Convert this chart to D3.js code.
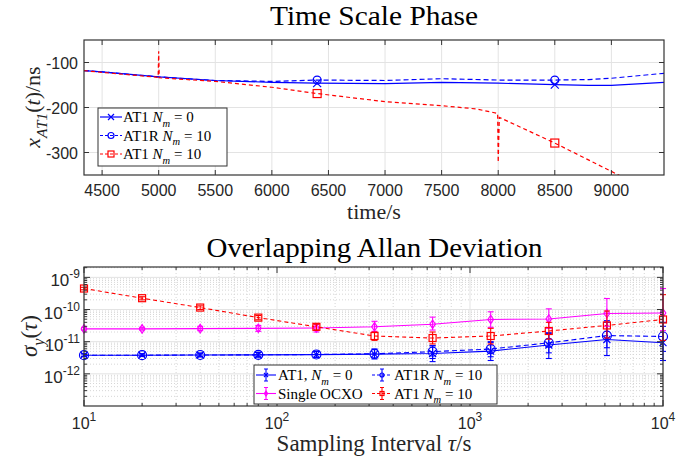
<!DOCTYPE html>
<html>
<head>
<meta charset="utf-8">
<script src="https://cdn.jsdelivr.net/npm/d3@7"></script>
<style>
body{margin:0;background:#fff;}
svg{display:block;}
</style>
</head>
<body>
<div id="chart"></div>
<script>
//////////////////////data//////////////////////
// Time Scale Phase (ns)
var phaseTime = [4340, 4500, 5000, 5500, 6000, 6400, 7000, 7500, 8000, 8500, 8800, 9000, 9465];
var phaseAT1  = [-118, -121, -132, -140, -144, -146, -147, -144, -146, -149, -151, -151, -144];
var phaseAT1R = [-118, -121, -132, -140, -142, -139, -140, -136, -139, -139, -138, -135, -124];
var redTime   = [4340, 4500, 4995, 5000, 5005, 5500, 6000, 6400, 7000, 7500, 7800, 7995, 8000, 8010, 8500, 9000, 9465];
var phaseAT1N10 = [-118, -122, -133, -75, -134, -142, -155, -169, -187, -196, -203, -213, -322, -222, -279, -342, -400];
var markTime = [6400, 8500];
var phaseXTicks = [4500, 5000, 5500, 6000, 6500, 7000, 7500, 8000, 8500, 9000];
var phaseYTicks = [-100, -200, -300];

// Overlapping Allan Deviation
var tau = [10, 20, 40, 80, 160, 320, 640, 1280, 2560, 5120, 10000];
var adevAT1    = [3.8e-12, 3.8e-12, 3.85e-12, 3.9e-12, 3.95e-12, 4.1e-12, 4.3e-12, 5.1e-12, 7.9e-12, 1.17e-11, 9.3e-12];
var adevAT1Lo  = [3.5e-12, 3.5e-12, 3.4e-12, 3.3e-12, 3.2e-12, 2.9e-12, 2.4e-12, 2.6e-12, 3.0e-12, 3.7e-12, 2.6e-12];
var adevAT1Hi  = [4.2e-12, 4.2e-12, 4.4e-12, 4.7e-12, 5.0e-12, 5.9e-12, 7.5e-12, 9.5e-12, 1.8e-11, 4.5e-11, 3.0e-11];
var adevAT1R   = [3.8e-12, 3.8e-12, 3.85e-12, 3.9e-12, 4.0e-12, 4.2e-12, 4.9e-12, 5.9e-12, 9.2e-12, 1.55e-11, 1.45e-11];
var adevAT1RLo = [3.5e-12, 3.5e-12, 3.4e-12, 3.4e-12, 3.3e-12, 3.1e-12, 3.0e-12, 3.4e-12, 4.5e-12, 6.5e-12, 5.0e-12];
var adevAT1RHi = [4.2e-12, 4.2e-12, 4.4e-12, 4.6e-12, 5.0e-12, 5.8e-12, 7.5e-12, 1.0e-11, 1.9e-11, 4.0e-11, 4.0e-11];
var adevOCXO   = [2.5e-11, 2.5e-11, 2.55e-11, 2.6e-11, 2.65e-11, 2.9e-11, 3.5e-11, 4.9e-11, 5.1e-11, 7.5e-11, 7.8e-11];
var adevOCXOLo = [2.3e-11, 2.3e-11, 2.2e-11, 2.1e-11, 2.0e-11, 2.1e-11, 2.3e-11, 2.8e-11, 2.6e-11, 3.0e-11, 2.2e-11];
var adevOCXOHi = [2.8e-11, 2.8e-11, 3.0e-11, 3.2e-11, 3.5e-11, 4.3e-11, 5.8e-11, 8.5e-11, 1.05e-10, 2.2e-10, 4.5e-10];
var adevN10    = [4.5e-10, 2.25e-10, 1.15e-10, 5.6e-11, 2.9e-11, 1.5e-11, 1.3e-11, 1.5e-11, 2.15e-11, 3.2e-11, 4.9e-11];
var adevN10Lo  = [4.1e-10, 2.0e-10, 1.0e-10, 4.8e-11, 2.3e-11, 1.1e-11, 8.5e-12, 8.5e-12, 1.2e-11, 1.3e-11, 1.1e-11];
var adevN10Hi  = [4.9e-10, 2.5e-10, 1.3e-10, 6.5e-11, 3.5e-11, 2.0e-11, 2.0e-11, 2.6e-11, 4.0e-11, 9.0e-11, 2.9e-10];
var adevXExp = [1, 2, 3, 4];
var adevYExp = [-9, -10, -11, -12];

//////////////////////style//////////////////////
var serif = '"Liberation Serif","DejaVu Serif",serif';
var sans = '"Liberation Sans",Arial,sans-serif';
var axisColor = "#333";
var textColor = "#262626";
var gridColor = "#e3e3e3";
var blue = "#0000ff", red = "#ff0000", mag = "#ff00ff";

var svg = d3.select("#chart").append("svg").attr("width", 695).attr("height", 460);

//math text helper: parts = [text, italic?, sub?]
function mathText(sel, parts, size){
    var subSize = size*0.7;
    var shift = 0;
    parts.forEach(function(p){
        var ts = sel.append("tspan").text(p[0]);
        if(p[1]) ts.attr("font-style", "italic");
        var want = p[2] ? size*0.3 : 0;
        if(want != shift){ ts.attr("dy", want-shift); shift = want; }
        if(p[2]) ts.attr("font-size", subSize);
    });
    return sel;
}

//////////////////////top plot//////////////////////
function plot_phase(){
    var L=84, R=664, T=40, B=175;
    var x = d3.scaleLinear().domain([4340, 9465]).range([L, R]);
    var y = d3.scaleLinear().domain([-350, -50]).range([B, T]);
    var g = svg.append("g");

    g.append("clipPath").attr("id", "clipTop").append("rect")
        .attr("x", L).attr("y", T).attr("width", R-L).attr("height", B-T);

    //grid
    g.selectAll(".gx").data(phaseXTicks).enter().append("line")
        .attr("x1", function(d){return x(d);}).attr("x2", function(d){return x(d);})
        .attr("y1", T).attr("y2", B).attr("stroke", gridColor);
    g.selectAll(".gy").data(phaseYTicks).enter().append("line")
        .attr("y1", function(d){return y(d);}).attr("y2", function(d){return y(d);})
        .attr("x1", L).attr("x2", R).attr("stroke", gridColor);

    var line = function(tt){
        return d3.line().x(function(d, i){return x(tt[i]);}).y(function(d){return y(d);});
    };
    var lines = g.append("g").attr("clip-path", "url(#clipTop)");
    lines.append("path").attr("d", line(phaseTime)(phaseAT1))
        .attr("fill", "none").attr("stroke", blue).attr("stroke-width", 1.2);
    lines.append("path").attr("d", line(phaseTime)(phaseAT1R))
        .attr("fill", "none").attr("stroke", blue).attr("stroke-width", 1.2).attr("stroke-dasharray", "5,3");
    lines.append("path").attr("d", line(redTime)(phaseAT1N10))
        .attr("fill", "none").attr("stroke", red).attr("stroke-width", 1.2).attr("stroke-dasharray", "4,3");

    //markers
    markTime.forEach(function(t){
        var i = phaseTime.indexOf(t);
        drawMarker(g, "x", x(t), y(phaseAT1[i]), blue, 4);
        drawMarker(g, "o", x(t), y(phaseAT1R[i]), blue, 4);
        var j = redTime.indexOf(t);
        drawMarker(g, "s", x(t), y(phaseAT1N10[j]), red, 4);
    });

    //box + ticks
    g.append("rect").attr("x", L).attr("y", T).attr("width", R-L).attr("height", B-T)
        .attr("fill", "none").attr("stroke", axisColor).attr("stroke-width", 1.2);
    phaseXTicks.forEach(function(d){
        g.append("line").attr("x1", x(d)).attr("x2", x(d)).attr("y1", B).attr("y2", B-5).attr("stroke", axisColor);
        g.append("line").attr("x1", x(d)).attr("x2", x(d)).attr("y1", T).attr("y2", T+5).attr("stroke", axisColor);
        g.append("text").attr("x", x(d)).attr("y", 196).attr("text-anchor", "middle")
            .attr("font-family", sans).attr("font-size", 16).attr("fill", textColor).text(d);
    });
    phaseYTicks.forEach(function(d){
        g.append("line").attr("x1", L).attr("x2", L+5).attr("y1", y(d)).attr("y2", y(d)).attr("stroke", axisColor);
        g.append("line").attr("x1", R).attr("x2", R-5).attr("y1", y(d)).attr("y2", y(d)).attr("stroke", axisColor);
        g.append("text").attr("x", 78).attr("y", y(d)+6).attr("text-anchor", "end")
            .attr("font-family", sans).attr("font-size", 16).attr("fill", textColor).text(d);
    });

    //labels
    g.append("text").attr("x", 374).attr("y", 25).attr("text-anchor", "middle")
        .attr("font-family", serif).attr("font-size", 28).attr("fill", "#000")
        .attr("textLength", 208).attr("lengthAdjust", "spacingAndGlyphs").text("Time Scale Phase");
    var xl = g.append("text").attr("x", 374).attr("y", 219).attr("text-anchor", "middle")
        .attr("font-family", serif).attr("font-size", 22).attr("fill", textColor);
    mathText(xl, [["time/s"]], 22);
    var yl = g.append("text").attr("transform", "translate(40,107) rotate(-90)").attr("text-anchor", "middle")
        .attr("font-family", serif).attr("font-size", 22).attr("fill", textColor);
    mathText(yl, [["x", 1], ["AT1", 1, 1], ["(", 0], ["t", 1], [")/ns", 0]], 22);

    //legend
    var lg = g.append("g");
    lg.append("rect").attr("x", 98).attr("y", 108).attr("width", 129).attr("height", 58)
        .attr("fill", "#fff").attr("stroke", axisColor).attr("stroke-width", 1);
    var items = [
        {c: blue, dash: null, m: "x", t: [["AT1 "], ["N", 1], ["m", 1, 1], [" = 0"]]},
        {c: blue, dash: "3,2", m: "o", t: [["AT1R "], ["N", 1], ["m", 1, 1], [" = 10"]]},
        {c: red, dash: "3,2", m: "s", t: [["AT1 "], ["N", 1], ["m", 1, 1], [" = 10"]]}
    ];
    items.forEach(function(it, k){
        var cy = 117 + k*18.5;
        lg.append("line").attr("x1", 100).attr("x2", 122).attr("y1", cy).attr("y2", cy)
            .attr("stroke", it.c).attr("stroke-width", 1.2).attr("stroke-dasharray", it.dash);
        drawMarker(lg, it.m, 111, cy, it.c, 3);
        var tx = lg.append("text").attr("x", 123).attr("y", cy+5)
            .attr("font-family", serif).attr("font-size", 15).attr("fill", "#000");
        mathText(tx, it.t, 15);
    });
}

function drawMarker(g, type, cx, cy, color, r){
    if(type == "x"){
        g.append("path").attr("d", "M"+(cx-r)+","+(cy-r)+"L"+(cx+r)+","+(cy+r)+"M"+(cx-r)+","+(cy+r)+"L"+(cx+r)+","+(cy-r))
            .attr("stroke", color).attr("stroke-width", 1.2);
    } else if(type == "o"){
        g.append("circle").attr("cx", cx).attr("cy", cy).attr("r", r)
            .attr("fill", "none").attr("stroke", color).attr("stroke-width", 1.2);
    } else if(type == "s"){
        g.append("rect").attr("x", cx-r).attr("y", cy-r).attr("width", 2*r).attr("height", 2*r)
            .attr("fill", "none").attr("stroke", color).attr("stroke-width", 1.2);
    } else if(type == "d"){
        g.append("path").attr("d", "M"+cx+","+(cy-r*1.2)+"L"+(cx+r*0.8)+","+cy+"L"+cx+","+(cy+r*1.2)+"L"+(cx-r*0.8)+","+cy+"Z")
            .attr("fill", "none").attr("stroke", color).attr("stroke-width", 1.2);
    }
}

//////////////////////bottom plot//////////////////////
function plot_adev(){
    var L=84, R=663, T=267, B=406;
    var x = d3.scaleLog().domain([10, 10000]).range([L, R]);
    var y = d3.scaleLog().domain([1e-13, 2.1e-9]).range([B, T]);
    var g = svg.append("g");

    g.append("clipPath").attr("id", "clipBot").append("rect")
        .attr("x", L).attr("y", T).attr("width", R-L).attr("height", B-T);

    //minor / major grid
    var xMinor = [], yMinor = [];
    for(var e=1; e<4; e++){ for(var k=2; k<10; k++){ xMinor.push(k*Math.pow(10, e)); } }
    for(var e2=-13; e2<-8; e2++){ for(var k2=2; k2<10; k2++){ var v = k2*Math.pow(10, e2); if(v < 2.1e-9) yMinor.push(v); } }
    var xMajor = adevXExp.map(function(p){return Math.pow(10, p);});
    var yMajor = adevYExp.map(function(p){return Math.pow(10, p);});

    xMinor.forEach(function(d){
        g.append("line").attr("x1", x(d)).attr("x2", x(d)).attr("y1", T).attr("y2", B)
            .attr("stroke", "#d6d6d6").attr("stroke-dasharray", "1,2");
    });
    yMinor.forEach(function(d){
        g.append("line").attr("y1", y(d)).attr("y2", y(d)).attr("x1", L).attr("x2", R)
            .attr("stroke", "#d6d6d6").attr("stroke-dasharray", "1,2");
    });
    xMajor.forEach(function(d){
        g.append("line").attr("x1", x(d)).attr("x2", x(d)).attr("y1", T).attr("y2", B).attr("stroke", gridColor);
    });
    yMajor.forEach(function(d){
        g.append("line").attr("y1", y(d)).attr("y2", y(d)).attr("x1", L).attr("x2", R).attr("stroke", gridColor);
    });

    var series = [
        {v: adevAT1, lo: adevAT1Lo, hi: adevAT1Hi, c: blue, dash: null, m: "x"},
        {v: adevAT1R, lo: adevAT1RLo, hi: adevAT1RHi, c: blue, dash: "5,3", m: "o"},
        {v: adevOCXO, lo: adevOCXOLo, hi: adevOCXOHi, c: mag, dash: null, m: "d"},
        {v: adevN10, lo: adevN10Lo, hi: adevN10Hi, c: red, dash: "4,3", m: "s"}
    ];
    var pg = g.append("g").attr("clip-path", "url(#clipBot)");
    var ag = g.append("g");
    var line = d3.line().x(function(d, i){return x(tau[i]);}).y(function(d){return y(d);});
    series.forEach(function(s){
        pg.append("path").attr("d", line(s.v)).attr("fill", "none")
            .attr("stroke", s.c).attr("stroke-width", 1.1).attr("stroke-dasharray", s.dash);
        tau.forEach(function(t, i){
            var px = x(t);
            ag.append("line").attr("x1", px).attr("x2", px).attr("y1", y(s.lo[i])).attr("y2", y(s.hi[i]))
                .attr("stroke", s.c).attr("stroke-width", 1.1);
            [s.lo[i], s.hi[i]].forEach(function(b){
                ag.append("line").attr("x1", px-3).attr("x2", px+3).attr("y1", y(b)).attr("y2", y(b))
                    .attr("stroke", s.c).attr("stroke-width", 1.1);
            });
            drawMarker(ag, s.m, px, y(s.v[i]), s.c, s.m == "o" ? 4.5 : 3.5);
        });
    });

    //box + ticks
    g.append("rect").attr("x", L).attr("y", T).attr("width", R-L).attr("height", B-T)
        .attr("fill", "none").attr("stroke", axisColor).attr("stroke-width", 1.2);
    xMinor.forEach(function(d){
        g.append("line").attr("x1", x(d)).attr("x2", x(d)).attr("y1", B).attr("y2", B-3).attr("stroke", axisColor);
        g.append("line").attr("x1", x(d)).attr("x2", x(d)).attr("y1", T).attr("y2", T+3).attr("stroke", axisColor);
    });
    yMinor.forEach(function(d){
        g.append("line").attr("y1", y(d)).attr("y2", y(d)).attr("x1", L).attr("x2", L+3).attr("stroke", axisColor);
        g.append("line").attr("y1", y(d)).attr("y2", y(d)).attr("x1", R).attr("x2", R-3).attr("stroke", axisColor);
    });
    adevXExp.forEach(function(p){
        var px = x(Math.pow(10, p));
        g.append("line").attr("x1", px).attr("x2", px).attr("y1", B).attr("y2", B-6).attr("stroke", axisColor);
        g.append("line").attr("x1", px).attr("x2", px).attr("y1", T).attr("y2", T+6).attr("stroke", axisColor);
        var t = g.append("text").attr("x", px).attr("y", 429).attr("text-anchor", "middle")
            .attr("font-family", sans).attr("font-size", 16).attr("fill", textColor);
        t.append("tspan").text("10");
        t.append("tspan").attr("dy", -8).attr("font-size", 12).text(p);
    });
    adevYExp.forEach(function(p){
        var py = y(Math.pow(10, p));
        g.append("line").attr("y1", py).attr("y2", py).attr("x1", L).attr("x2", L+6).attr("stroke", axisColor);
        g.append("line").attr("y1", py).attr("y2", py).attr("x1", R).attr("x2", R-6).attr("stroke", axisColor);
        var t = g.append("text").attr("x", 80).attr("y", py+9).attr("text-anchor", "end")
            .attr("font-family", sans).attr("font-size", 17).attr("fill", textColor);
        t.append("tspan").text("10");
        t.append("tspan").attr("dy", -8).attr("font-size", 12).text(p);
    });

    //labels
    g.append("text").attr("x", 374.5).attr("y", 257).attr("text-anchor", "middle")
        .attr("font-family", serif).attr("font-size", 28).attr("fill", "#000")
        .attr("textLength", 336).attr("lengthAdjust", "spacingAndGlyphs").text("Overlapping Allan Deviation");
    var xl = g.append("text").attr("x", 374).attr("y", 451).attr("text-anchor", "middle")
        .attr("font-family", serif).attr("font-size", 23).attr("fill", textColor);
    mathText(xl, [["Sampling Interval "], ["τ", 1], ["/s"]], 23);
    var yl = g.append("text").attr("transform", "translate(37,336) rotate(-90)").attr("text-anchor", "middle")
        .attr("font-family", serif).attr("font-size", 23).attr("fill", textColor);
    mathText(yl, [["σ", 1], ["y", 1, 1], ["("], ["τ", 1], [")"]], 23);

    //legend
    var lg = g.append("g");
    lg.append("rect").attr("x", 254).attr("y", 365).attr("width", 243).attr("height", 39)
        .attr("fill", "#fff").attr("stroke", axisColor).attr("stroke-width", 1);
    var items = [
        {c: blue, dash: null, m: "x", x0: 256, t: [["AT1, "], ["N", 1], ["m", 1, 1], [" = 0"]]},
        {c: blue, dash: "3,2", m: "o", x0: 372, t: [["AT1R "], ["N", 1], ["m", 1, 1], [" = 10"]]},
        {c: mag, dash: null, m: "d", x0: 256, t: [["Single OCXO"]]},
        {c: red, dash: "3,2", m: "s", x0: 372, t: [["AT1 "], ["N", 1], ["m", 1, 1], [" = 10"]]}
    ];
    items.forEach(function(it, k){
        var cy = 375 + Math.floor(k/2)*18.5;
        var x0 = it.x0, x1 = it.x0 + 20, xm = it.x0 + 10;
        lg.append("line").attr("x1", x0).attr("x2", x1).attr("y1", cy).attr("y2", cy)
            .attr("stroke", it.c).attr("stroke-width", 1.1).attr("stroke-dasharray", it.dash);
        lg.append("line").attr("x1", xm).attr("x2", xm).attr("y1", cy-6).attr("y2", cy+6)
            .attr("stroke", it.c).attr("stroke-width", 1.1);
        lg.append("line").attr("x1", xm-2).attr("x2", xm+2).attr("y1", cy-6).attr("y2", cy-6).attr("stroke", it.c);
        lg.append("line").attr("x1", xm-2).attr("x2", xm+2).attr("y1", cy+6).attr("y2", cy+6).attr("stroke", it.c);
        drawMarker(lg, it.m, xm, cy, it.c, 2);
        var tx = lg.append("text").attr("x", x1+2).attr("y", cy+5)
            .attr("font-family", serif).attr("font-size", 15).attr("fill", "#000");
        mathText(tx, it.t, 15);
    });
}

plot_phase();
plot_adev();
</script>
</body>
</html>
